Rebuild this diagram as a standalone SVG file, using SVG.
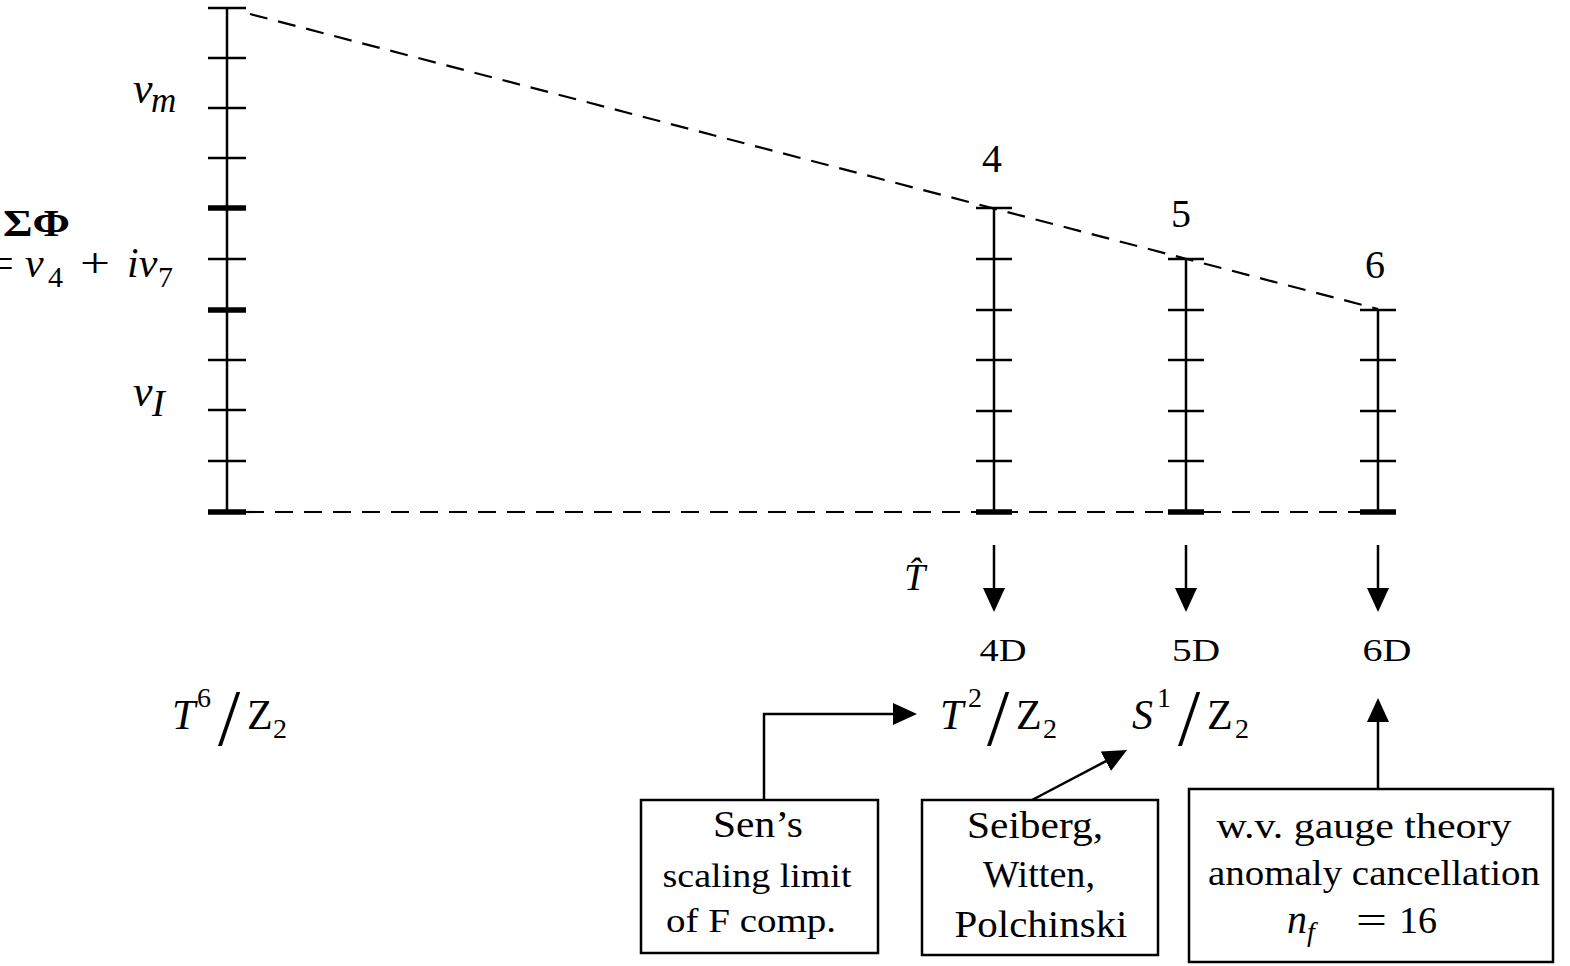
<svg xmlns="http://www.w3.org/2000/svg" width="1570" height="966" viewBox="0 0 1570 966">
<style>
  .ax { stroke: #000; stroke-width: 2.5; fill: none; }
  .tk { stroke: #000; stroke-width: 2.5; }
  .tkb { stroke: #000; stroke-width: 5.5; }
  .dash { stroke: #000; stroke-width: 2.2; stroke-dasharray: 18 11; fill: none; }
  .con { stroke: #000; stroke-width: 2.5; fill: none; }
  .box { stroke: #000; stroke-width: 2.5; fill: #fff; }
  text { font-family: "Liberation Serif", "Times New Roman", serif; fill: #000; }
  .it { font-style: italic; }
  .num { font-size: 40px; text-anchor: middle; }
  .dim { font-size: 31px; text-anchor: middle; }
  .bt { text-anchor: middle; }
</style>
<defs>
  <marker id="ah" viewBox="0 0 24 22" refX="14" refY="11" markerWidth="24" markerHeight="22" orient="auto" markerUnits="userSpaceOnUse">
    <path d="M0,0 L24,11 L0,22 z" fill="#000"/>
  </marker>
</defs>
<rect width="1570" height="966" fill="#fff"/>

<g id="guides">
  <line class="dash" x1="250" y1="14" x2="1378" y2="309"/>
  <line class="dash" x1="246" y1="512" x2="1397" y2="512"/>
</g>

<g id="axis-main">
  <line class="ax" x1="227" y1="8" x2="227" y2="512"/>
  <line class="tk" x1="208" y1="8" x2="246" y2="8"/>
  <line class="tk" x1="208" y1="58" x2="246" y2="58"/>
  <line class="tk" x1="208" y1="108" x2="246" y2="108"/>
  <line class="tk" x1="208" y1="158" x2="246" y2="158"/>
  <line class="tkb" x1="208" y1="208" x2="246" y2="208"/>
  <line class="tk" x1="208" y1="259" x2="246" y2="259"/>
  <line class="tkb" x1="208" y1="310" x2="246" y2="310"/>
  <line class="tk" x1="208" y1="360" x2="246" y2="360"/>
  <line class="tk" x1="208" y1="410" x2="246" y2="410"/>
  <line class="tk" x1="208" y1="461" x2="246" y2="461"/>
  <line class="tkb" x1="208" y1="512" x2="246" y2="512"/>
</g>

<g id="axis-4">
  <line class="ax" x1="994" y1="208" x2="994" y2="512"/>
  <line class="tk" x1="976" y1="208" x2="1012" y2="208"/>
  <line class="tk" x1="976" y1="259" x2="1012" y2="259"/>
  <line class="tk" x1="976" y1="310" x2="1012" y2="310"/>
  <line class="tk" x1="976" y1="360" x2="1012" y2="360"/>
  <line class="tk" x1="976" y1="411" x2="1012" y2="411"/>
  <line class="tk" x1="976" y1="461" x2="1012" y2="461"/>
  <line class="tkb" x1="976" y1="512" x2="1012" y2="512"/>
  <text class="num" x="992" y="172">4</text>
</g>

<g id="axis-5">
  <line class="ax" x1="1186" y1="259" x2="1186" y2="512"/>
  <line class="tk" x1="1168" y1="259" x2="1204" y2="259"/>
  <line class="tk" x1="1168" y1="310" x2="1204" y2="310"/>
  <line class="tk" x1="1168" y1="360" x2="1204" y2="360"/>
  <line class="tk" x1="1168" y1="411" x2="1204" y2="411"/>
  <line class="tk" x1="1168" y1="461" x2="1204" y2="461"/>
  <line class="tkb" x1="1168" y1="512" x2="1204" y2="512"/>
  <text class="num" x="1181" y="227">5</text>
</g>

<g id="axis-6">
  <line class="ax" x1="1378" y1="310" x2="1378" y2="512"/>
  <line class="tk" x1="1360" y1="310" x2="1396" y2="310"/>
  <line class="tk" x1="1360" y1="360" x2="1396" y2="360"/>
  <line class="tk" x1="1360" y1="411" x2="1396" y2="411"/>
  <line class="tk" x1="1360" y1="461" x2="1396" y2="461"/>
  <line class="tkb" x1="1360" y1="512" x2="1396" y2="512"/>
  <text class="num" x="1375" y="278">6</text>
</g>

<g id="label-vm">
  <text class="it" x="133" y="103" font-size="44">v</text>
  <text class="it" x="151" y="112" font-size="35">m</text>
</g>

<g id="label-sigma">
  <text x="3" y="236" font-size="38" font-weight="bold" textLength="67" lengthAdjust="spacingAndGlyphs">ΣΦ</text>
  <text y="277" font-size="42"><tspan x="-10">=</tspan><tspan x="25" class="it">v</tspan><tspan x="48" y="287" font-size="30">4</tspan><tspan x="80" y="277" textLength="30" lengthAdjust="spacingAndGlyphs">+</tspan><tspan x="127" class="it">iv</tspan><tspan x="158" y="287" font-size="30">7</tspan></text>
</g>

<g id="label-vi">
  <text class="it" x="133" y="406" font-size="44">v</text>
  <text class="it" x="152" y="416" font-size="38">I</text>
</g>

<g id="label-t6">
  <text class="it" x="172" y="729" font-size="42">T</text>
  <text x="197" y="707" font-size="28">6</text>
  <text x="218" y="745" font-size="80">/</text>
  <text x="247" y="729" font-size="42">Z</text>
  <text x="273" y="738" font-size="28">2</text>
</g>

<g id="label-that">
  <text class="it" x="904" y="590" font-size="38">T&#x302;</text>
</g>

<g id="dims">
  <text class="dim" x="1003" y="661" textLength="47" lengthAdjust="spacingAndGlyphs">4D</text>
  <text class="dim" x="1196" y="661" textLength="48" lengthAdjust="spacingAndGlyphs">5D</text>
  <text class="dim" x="1387" y="661" textLength="49" lengthAdjust="spacingAndGlyphs">6D</text>
</g>

<g id="label-t2">
  <text class="it" x="940" y="729" font-size="42">T</text>
  <text x="968" y="707" font-size="28">2</text>
  <text x="987" y="745" font-size="80">/</text>
  <text x="1016" y="729" font-size="42">Z</text>
  <text x="1043" y="738" font-size="28">2</text>
</g>

<g id="label-s1">
  <text class="it" x="1132" y="729" font-size="42">S</text>
  <text x="1157" y="707" font-size="28">1</text>
  <text x="1178" y="745" font-size="80">/</text>
  <text x="1207" y="729" font-size="42">Z</text>
  <text x="1235" y="738" font-size="28">2</text>
</g>

<g id="connectors">
  <line class="con" x1="994" y1="545" x2="994" y2="602" marker-end="url(#ah)"/>
  <line class="con" x1="1186" y1="545" x2="1186" y2="602" marker-end="url(#ah)"/>
  <line class="con" x1="1378" y1="545" x2="1378" y2="602" marker-end="url(#ah)"/>
  <polyline class="con" points="764,800 764,714 907,714" marker-end="url(#ah)"/>
  <line class="con" x1="1032" y1="800" x2="1118.2" y2="754.7" marker-end="url(#ah)"/>
  <line class="con" x1="1378" y1="789" x2="1378" y2="708" marker-end="url(#ah)"/>
</g>

<g id="box-sen">
  <rect class="box" x="641" y="800" width="237" height="153"/>
  <text class="bt" x="758" y="837" font-size="37" textLength="90" lengthAdjust="spacingAndGlyphs">Sen’s</text>
  <text class="bt" x="757" y="887" font-size="33" textLength="189" lengthAdjust="spacingAndGlyphs">scaling limit</text>
  <text class="bt" x="751" y="932" font-size="33" textLength="170" lengthAdjust="spacingAndGlyphs">of F comp.</text>
</g>

<g id="box-swp">
  <rect class="box" x="922" y="800" width="236" height="155"/>
  <text class="bt" x="1035" y="838" font-size="38" textLength="136" lengthAdjust="spacingAndGlyphs">Seiberg,</text>
  <text class="bt" x="1039" y="887" font-size="38" textLength="112" lengthAdjust="spacingAndGlyphs">Witten,</text>
  <text class="bt" x="1041" y="937" font-size="38" textLength="173" lengthAdjust="spacingAndGlyphs">Polchinski</text>
</g>

<g id="box-wv">
  <rect class="box" x="1189" y="789" width="364" height="173"/>
  <text class="bt" x="1364" y="838" font-size="36" textLength="295" lengthAdjust="spacingAndGlyphs">w.v. gauge theory</text>
  <text class="bt" x="1374" y="885" font-size="36" textLength="332" lengthAdjust="spacingAndGlyphs">anomaly cancellation</text>
  <text x="1287" y="933" font-size="40" class="it">n</text>
  <text x="1307" y="941" font-size="28" class="it">f</text>
  <text x="1356" y="933" font-size="38" textLength="31" lengthAdjust="spacingAndGlyphs">=</text>
  <text x="1399" y="933" font-size="38" textLength="38" lengthAdjust="spacingAndGlyphs">16</text>
</g>
</svg>
